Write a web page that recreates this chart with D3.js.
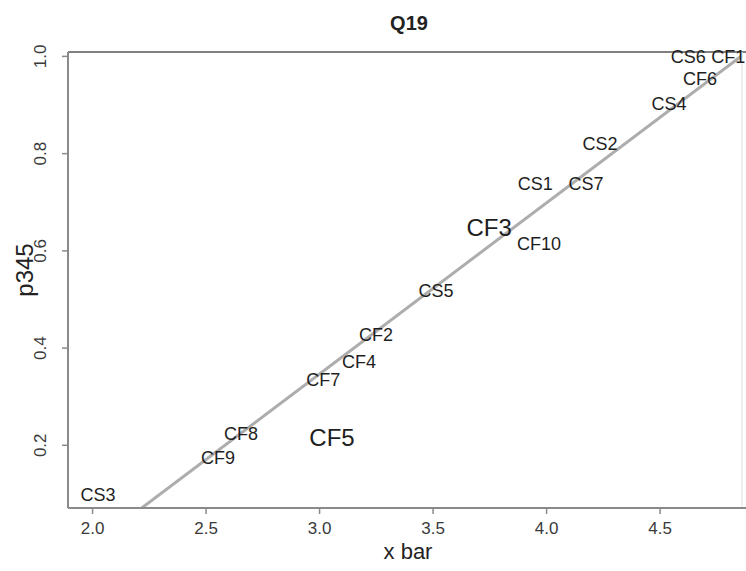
<!DOCTYPE html>
<html>
<head>
<meta charset="utf-8">
<script src="https://cdn.jsdelivr.net/npm/d3@7/dist/d3.min.js"></script>
<style>
body{margin:0;background:#fff;}
svg text{font-family:"Liberation Sans",Arial,sans-serif;}
</style>
</head>
<body>
<svg id="chart" width="746" height="571"></svg>
<script>
const labels = ["CS6","CF1","CF6","CS4","CS2","CS1","CS7","CF3","CF10","CS5","CF2","CF4","CF7","CF8","CF5","CF9","CS3"];
const xbar   = [4.626,4.802,4.678,4.542,4.238,3.952,4.176,3.749,3.969,3.515,3.251,3.176,3.018,2.656,3.057,2.555,2.026];
const p345   = [0.998,0.998,0.953,0.901,0.819,0.737,0.737,0.648,0.613,0.516,0.426,0.370,0.333,0.222,0.214,0.173,0.097];
const bigLabels = ["CF3","CF5"];
const xTicks = [2.0,2.5,3.0,3.5,4.0,4.5];
const yTicks = [0.2,0.4,0.6,0.8,1.0];
const fitIntercept = -0.711;
const fitSlope = 0.352;
const xDomain = [1.894,4.863];
const yDomain = [0.070,1.008];

const svg = d3.select("#chart");
const L=68,R=742,T=52,B=508;
const x = d3.scaleLinear().domain(xDomain).range([L,R]);
const y = d3.scaleLinear().domain(yDomain).range([B,T]);

svg.append("defs").append("clipPath").attr("id","clip")
  .append("rect").attr("x",L).attr("y",T).attr("width",R-L).attr("height",B-T);

// regression line
const x0 = (yDomain[0]-fitIntercept)/fitSlope;
const x1 = (1.0-fitIntercept)/fitSlope;
svg.append("line").attr("clip-path","url(#clip)")
  .attr("x1",x(x0)).attr("y1",y(fitIntercept+fitSlope*x0))
  .attr("x2",x(x1)).attr("y2",y(fitIntercept+fitSlope*x1))
  .attr("stroke","#adadad").attr("stroke-width",3);

// frame
svg.append("line").attr("x1",L).attr("x2",746).attr("y1",T).attr("y2",T).attr("stroke","#808080").attr("stroke-width",2);
svg.append("line").attr("x1",R).attr("x2",R).attr("y1",T).attr("y2",B).attr("stroke","#e8e8e8").attr("stroke-width",1.5);

// axes
const xAxis = svg.append("g").attr("transform",`translate(0,${B})`)
  .call(d3.axisBottom(x).tickValues(xTicks).tickFormat(d3.format(".1f")).tickSize(6).tickPadding(8));
xAxis.select(".domain").attr("stroke","#8a8a8a").attr("stroke-width",2).attr("d",`M${L},0H746`);
xAxis.selectAll(".tick line").attr("stroke","#8a8a8a").attr("stroke-width",1.5);
xAxis.selectAll(".tick text").attr("font-size",17).attr("fill","#3a3a3a");

const yAxis = svg.append("g").attr("transform",`translate(${L},0)`)
  .call(d3.axisLeft(y).tickValues(yTicks).tickFormat(d3.format(".1f")).tickSize(6));
yAxis.select(".domain").attr("stroke","#8a8a8a").attr("stroke-width",2).attr("d",`M0,${B}V${T}`);
yAxis.selectAll(".tick line").attr("stroke","#8a8a8a").attr("stroke-width",1.5);
yAxis.selectAll(".tick text").attr("font-size",17).attr("fill","#3a3a3a")
  .attr("x",0).attr("dy",null).attr("text-anchor","middle")
  .attr("transform","translate(-26,0) rotate(-90)")
  .attr("dominant-baseline","middle");

// labels
svg.append("g").selectAll("text").data(labels).join("text")
  .attr("x",(d,i)=>x(xbar[i])).attr("y",(d,i)=>y(p345[i]))
  .attr("text-anchor","middle").attr("dominant-baseline","central")
  .attr("font-size",d=>bigLabels.includes(d)?24:18)
  .attr("fill","#1e1e1e")
  .text(d=>d);

// title and axis titles
svg.append("text").attr("x",409).attr("y",30).attr("text-anchor","middle")
  .attr("font-size",20).attr("font-weight","bold").attr("fill","#222").text("Q19");
svg.append("text").attr("x",408).attr("y",559).attr("text-anchor","middle")
  .attr("font-size",22).attr("fill","#222").text("x bar");
svg.append("text").attr("transform","translate(33,270) rotate(-90)").attr("text-anchor","middle")
  .attr("font-size",24).attr("fill","#222").text("p345");
</script>
</body>
</html>
